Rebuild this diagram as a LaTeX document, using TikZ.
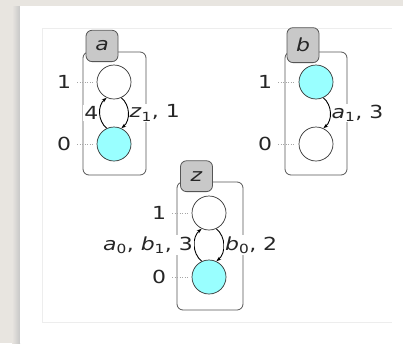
\documentclass[tikz,border=0pt]{standalone}
\usepackage{fontspec}
\setmainfont{DejaVu Sans}[FakeStretch=1.22]
\usetikzlibrary{arrows.meta}
\definecolor{bggray}{HTML}{E8E5E0}
\definecolor{statecyan}{HTML}{99FFFF}
\definecolor{tabgray}{HTML}{C8C8C8}
\definecolor{linegray}{HTML}{555555}
\tikzset{
  every node/.style={font=\fontsize{18}{21}\selectfont, text=black!85},
  compbox/.style={draw=linegray, line width=0.8pt, rounded corners=6pt},
  tabnode/.style={draw=linegray, line width=0.8pt, fill=tabgray, rounded corners=6pt, anchor=south, minimum width=32pt, inner xsep=3pt, inner ysep=10.5pt},
  stateoff/.style={circle, draw=black!80, line width=0.7pt, fill=white, minimum size=34pt, inner sep=0pt},
  stateon/.style={stateoff, fill=statecyan},
  levellabel/.style={inner sep=1pt},
  levelline/.style={draw=black!35, dotted, line width=0.5pt, shorten <=5pt, shorten >=4pt},
  trans/.style={draw=black, line width=0.9pt, -{Stealth[length=5pt,width=3.5pt]}},
  tlabel/.style={inner sep=1pt, fill=white}
}
\begin{document}
\begin{tikzpicture}[x=1pt,y=-1pt]
\useasboundingbox (0,0) rectangle (403,343);
\fill[bggray] (0,0) rectangle (403,343);
\shade[left color=bggray, right color=black!22] (12,6) rectangle (20,343);
\fill[white] (20,6) rectangle (403,343);
\draw[black!7, line width=0.6pt] (42,322) -- (42,28) -- (392,28);
\draw[black!7, line width=0.6pt] (42,322) -- (392,322);

% component a
\draw[compbox] (83,52) rectangle (146,175);
\node[tabnode] (ta) at (102,62) {\textit{a}};
\node[stateoff] (a1) at (114,82) {};
\node[stateon] (a0) at (114,144) {};
\node[levellabel] (la1) at (64,82) {1};
\node[levellabel] (la0) at (64,144) {0};
\draw[levelline] (la1) -- (a1);
\draw[levelline] (la0) -- (a0);
\draw[trans] (a0.115) to[bend left=50] node[tlabel, left] {4} (a1.245);
\draw[trans] (a1.295) to[bend left=50] node[tlabel, right] {\textit{z}\textsubscript{1}, 1} (a0.65);

% component b
\draw[compbox] (285,52) rectangle (347,175);
\node[tabnode] (tb) at (303,63) {\textit{b}};
\node[stateon] (b1) at (316,82) {};
\node[stateoff] (b0) at (316,144) {};
\node[levellabel] (lb1) at (265,82) {1};
\node[levellabel] (lb0) at (265,144) {0};
\draw[levelline] (lb1) -- (b1);
\draw[levelline] (lb0) -- (b0);
\draw[trans] (b1.295) to[bend left=50] node[tlabel, right] {\textit{a}\textsubscript{1}, 3} (b0.65);

% component z
\draw[compbox] (177,182) rectangle (243,310);
\node[tabnode] (tz) at (196.5,192) {\textit{z}};
\node[stateoff] (z1) at (209,213) {};
\node[stateon] (z0) at (209,277) {};
\node[levellabel] (lz1) at (159,213) {1};
\node[levellabel] (lz0) at (159,277) {0};
\draw[levelline] (lz1) -- (z1);
\draw[levelline] (lz0) -- (z0);
\draw[trans] (z0.115) to[bend left=50] node[tlabel, left] {\textit{a}\textsubscript{0}, \textit{b}\textsubscript{1}, 3} (z1.245);
\draw[trans] (z1.295) to[bend left=50] node[tlabel, right] {\textit{b}\textsubscript{0}, 2} (z0.65);
\end{tikzpicture}
\end{document}
